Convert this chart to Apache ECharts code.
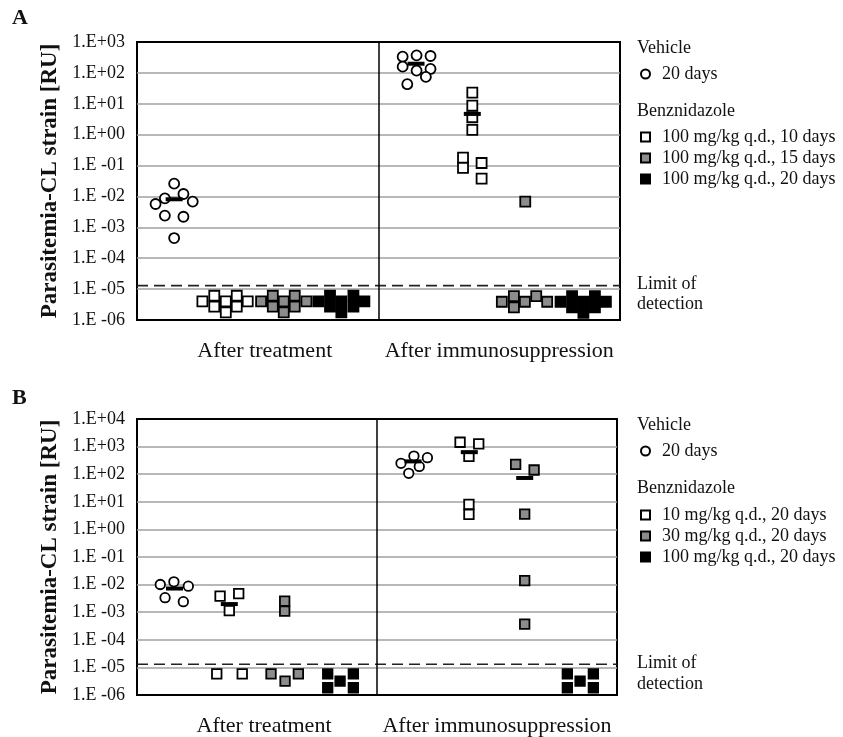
<!DOCTYPE html>
<html>
<head>
<meta charset="utf-8">
<script src="https://cdn.jsdelivr.net/npm/echarts@6/dist/echarts.min.js"></script>
<style>
  html, body { margin: 0; padding: 0; background: #fff; }
  #main { width: 843px; height: 737px; }
</style>
</head>
<body>
<div id="main"></div>
<script>
// x: slot position (0..26, divider between halves at 13), y: parasitemia [RU]
const halves = ['After treatment', 'After immunosuppression']
const limitOfDetection = 1.3e-5

// panel A
const aNames = ['20 days', '100 mg/kg q.d., 10 days', '100 mg/kg q.d., 15 days', '100 mg/kg q.d., 20 days']
const aVehicle = [[1, 5.7e-3], [1.5, 8.7e-3], [2, 2.6e-2], [2.5, 1.2e-2], [3, 6.8e-3], [1.5, 2.4e-3], [2.5, 2.2e-3], [2, 4.5e-4],
  [14.3, 334], [15.05, 371], [15.8, 352], [14.3, 159], [15.05, 119], [15.8, 134], [15.55, 74], [14.55, 43]]
const aBz10 = [[3.52, 4.0e-6], [4.16, 6.1e-6], [4.16, 2.7e-6], [4.78, 4.0e-6], [4.78, 1.76e-6], [5.37, 6.1e-6], [5.37, 2.7e-6], [5.96, 4.0e-6],
  [18.05, 22.9], [18.05, 8.7], [18.05, 3.66], [18.05, 1.42], [17.55, 0.18], [17.55, 0.084], [18.55, 0.121], [18.55, 0.0377]]
const aBz15 = [[6.68, 4.0e-6], [7.31, 6.1e-6], [7.31, 2.7e-6], [7.9, 4.0e-6], [7.9, 1.76e-6], [8.49, 6.1e-6], [8.49, 2.7e-6], [9.12, 4.0e-6],
  [20.9, 6.8e-3], [19.64, 3.9e-6], [20.29, 5.9e-6], [20.29, 2.56e-6], [20.88, 3.9e-6], [21.49, 5.9e-6], [22.08, 3.9e-6]]
const aBz20 = [[9.76, 4.0e-6], [10.39, 6.1e-6], [10.39, 2.7e-6], [11.0, 4.0e-6], [11.0, 1.76e-6], [11.65, 6.1e-6], [11.65, 2.7e-6], [12.24, 4.0e-6],
  [22.8, 3.9e-6], [23.42, 5.9e-6], [23.42, 2.56e-6], [24.03, 3.9e-6], [24.03, 1.71e-6], [24.65, 5.9e-6], [24.65, 2.56e-6], [25.24, 3.9e-6]]
const aMeans = [[2, 8.1e-3], [15.02, 198], [18.05, 4.7]]

// panel B
const bNames = ['20 days', '10 mg/kg q.d., 20 days', '30 mg/kg q.d., 20 days', '100 mg/kg q.d., 20 days']
const bVehicle = [[1.26, 0.0101], [2.0, 0.0126], [2.78, 0.00875], [1.52, 0.00335], [2.51, 0.0024],
  [14.3, 247], [15.0, 452], [15.73, 396], [15.29, 192], [14.72, 108]]
const bBz10 = [[4.5, 3.8e-3], [5.51, 4.7e-3], [5.0, 1.14e-3], [4.32, 5.8e-6], [5.7, 5.8e-6],
  [17.5, 1439], [18.51, 1262], [17.98, 441], [17.98, 8.06], [17.98, 3.5]]
const bBz30 = [[8.0, 2.5e-3], [8.0, 1.1e-3], [7.26, 5.8e-6], [8.02, 3.2e-6], [8.74, 5.8e-6],
  [20.51, 227], [21.51, 142], [21.0, 3.6], [21.0, 0.014], [21.0, 3.7e-4]]
const bBz100 = [[10.33, 5.8e-6], [11.0, 3.2e-6], [11.72, 5.8e-6], [10.33, 1.83e-6], [11.72, 1.83e-6],
  [23.31, 5.8e-6], [24.72, 5.8e-6], [24.0, 3.2e-6], [23.31, 1.83e-6], [24.72, 1.83e-6]]
const bMeans = [[2.03, 0.0072], [5.0, 1.97e-3], [14.95, 291], [18.0, 629], [21.0, 73]]

const font = 'Liberation Serif, Times New Roman, serif'
const fills = ['#fff', '#fff', '#8c8c8c', '#000']
const xMin = 0
const xMax = 26

const pad2 = n => (n < 10 ? '0' : '') + n
const tickLabel = v => {
  const e = Math.round(Math.log10(v))
  return e >= 0 ? '1.E+' + pad2(e) : '1.E -' + pad2(-e)
}

const makeSeries = (gridIdx, names, groups, means, size) => {
  const list = groups.map((data, i) => ({
    type: 'scatter',
    name: names[i],
    xAxisIndex: gridIdx * 2,
    yAxisIndex: gridIdx,
    symbol: i === 0 ? 'circle' : 'rect',
    symbolSize: size,
    data,
    itemStyle: { color: fills[i], borderColor: '#000', borderWidth: 1.8, opacity: 1 },
    emphasis: { disabled: true },
    z: 3
  }))
  // mean bars + divider between the two halves
  list.push({
    type: 'scatter',
    name: 'mean',
    xAxisIndex: gridIdx * 2,
    yAxisIndex: gridIdx,
    symbol: 'rect',
    symbolSize: [17, 4],
    data: means,
    itemStyle: { color: '#000', opacity: 1 },
    emphasis: { disabled: true },
    z: 5,
    markLine: {
      silent: true,
      symbol: 'none',
      label: { show: false },
      lineStyle: { color: '#000', width: 1.5, type: 'solid' },
      data: [{ xAxis: (xMin + xMax) / 2 }]
    }
  })
  // limit of detection
  list.push({
    type: 'line',
    name: 'lod',
    xAxisIndex: gridIdx * 2,
    yAxisIndex: gridIdx,
    data: [[xMin, limitOfDetection], [xMax, limitOfDetection]],
    symbol: 'none',
    silent: true,
    lineStyle: { color: '#222', width: 1.6, type: [11, 6] },
    z: 2
  })
  return list
}

const valueX = gridIndex => ({
  type: 'value', gridIndex, min: xMin, max: xMax,
  axisLine: { show: false }, axisTick: { show: false }, axisLabel: { show: false }, splitLine: { show: false }
})
const catX = gridIndex => ({
  type: 'category', gridIndex, data: halves, position: 'bottom', boundaryGap: true,
  axisLine: { show: false }, axisTick: { show: false }, splitLine: { show: false },
  axisLabel: {
    interval: 0, margin: 20, fontSize: 22, color: '#111', fontFamily: font,
    formatter: (v, i) => (i === 0 ? '{t|' + v + '}' : v),
    rich: { t: { fontSize: 22, color: '#111', fontFamily: font, padding: [0, 0, 0, 14] } }
  }
})
const logY = (gridIndex, max) => ({
  type: 'log', logBase: 10, gridIndex, min: 1e-6, max, interval: 1,
  name: 'Parasitemia-CL strain [RU]',
  nameLocation: 'middle', nameRotate: 90, nameGap: 67,
  nameTextStyle: { fontSize: 23, fontWeight: 'bold', color: '#111', fontFamily: font },
  axisLine: { show: false }, axisTick: { show: false },
  axisLabel: { formatter: tickLabel, fontSize: 18, color: '#111', fontFamily: font, margin: 12 },
  splitLine: { show: true, showMinLine: false, showMaxLine: false, lineStyle: { color: '#a0a0a0', width: 1.5 } }
})

const legendBase = {
  orient: 'vertical', left: 635, itemWidth: 9, itemHeight: 9, itemGap: 3,
  selectedMode: false,
  textStyle: { fontSize: 18, color: '#111', fontFamily: font, lineHeight: 18, padding: [0, 0, 0, 7] }
}

const text = (x, y, t, extra) => ({
  type: 'text', x, y,
  style: Object.assign({ text: t, fontSize: 18, fill: '#111', fontFamily: font, verticalAlign: 'middle' }, extra || {})
})

const chart = echarts.init(document.getElementById('main'))
chart.setOption({
  animation: false,
  textStyle: { fontFamily: font },
  grid: [
    { left: 137, top: 42, width: 483, height: 278, show: true, borderColor: '#000', borderWidth: 2, backgroundColor: 'transparent' },
    { left: 137, top: 419, width: 480, height: 278, show: true, borderColor: '#000', borderWidth: 2, backgroundColor: 'transparent' }
  ],
  xAxis: [valueX(0), catX(0), valueX(1), catX(1)],
  yAxis: [logY(0, 1e3), logY(1, 1e4)],
  legend: [
    Object.assign({ data: aNames.slice(0, 1), top: 60 }, legendBase),
    Object.assign({ data: aNames.slice(1), top: 123 }, legendBase),
    Object.assign({ data: bNames.slice(0, 1), top: 437 }, legendBase),
    Object.assign({ data: bNames.slice(1), top: 501 }, legendBase)
  ],
  graphic: [
    text(12, 18, 'A', { fontSize: 22, fontWeight: 'bold' }),
    text(12, 398, 'B', { fontSize: 22, fontWeight: 'bold' }),
    text(637, 48, 'Vehicle'),
    text(637, 111, 'Benznidazole'),
    text(637, 284, 'Limit of'),
    text(637, 304, 'detection'),
    text(637, 425, 'Vehicle'),
    text(637, 488, 'Benznidazole'),
    text(637, 663, 'Limit of'),
    text(637, 684, 'detection')
  ],
  series: [
    ...makeSeries(0, aNames, [aVehicle, aBz10, aBz15, aBz20], aMeans, 10),
    ...makeSeries(1, bNames, [bVehicle, bBz10, bBz30, bBz100], bMeans, 9.5)
  ]
})
window.addEventListener('resize', () => chart.resize())
</script>
</body>
</html>
